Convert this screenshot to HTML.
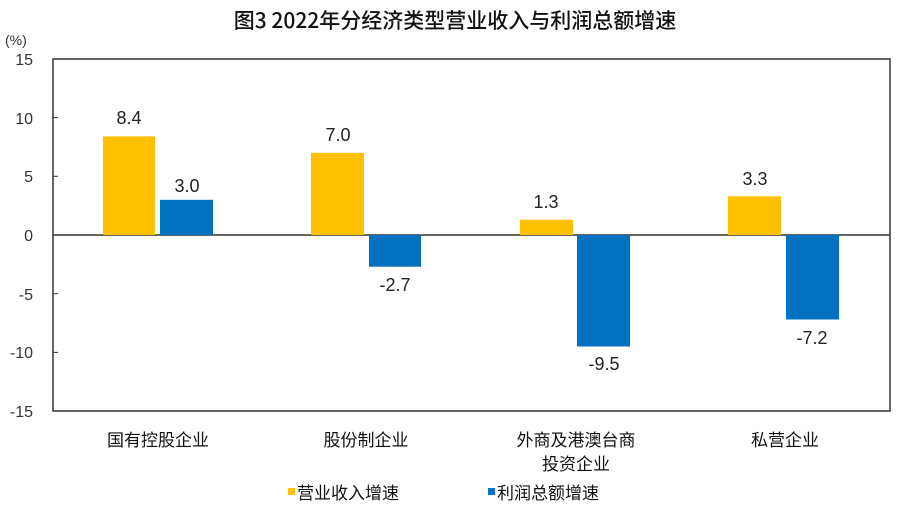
<!DOCTYPE html>
<html><head><meta charset="utf-8"><style>
body{margin:0;background:#fff;}
svg text{font-family:"Liberation Sans","Noto Sans CJK SC",sans-serif;}
</style></head><body>
<svg width="900" height="504" viewBox="0 0 900 504" xmlns="http://www.w3.org/2000/svg">
<rect width="900" height="504" fill="#fff"/>
<text x="455" y="28" font-size="21" text-anchor="middle" fill="#111" font-weight="500" style="font-family:'Noto Sans CJK SC',sans-serif">图3  2022年分经济类型营业收入与利润总额增速</text>
<text x="5" y="45" font-size="14" fill="#333">(%)</text>
<rect x="53" y="59" width="837" height="352" fill="none" stroke="#333" stroke-width="1.5"/>
<line x1="53" y1="235" x2="890" y2="235" stroke="#333" stroke-width="1.5"/>
<g stroke="#333" stroke-width="1">
<line x1="53" y1="117.6" x2="58" y2="117.6"/><line x1="53" y1="176.3" x2="58" y2="176.3"/>
<line x1="53" y1="293.7" x2="58" y2="293.7"/><line x1="53" y1="352.4" x2="58" y2="352.4"/>
</g>
<g font-size="16" fill="#333" text-anchor="end">
<text x="33" y="65">15</text><text x="33" y="124">10</text><text x="33" y="182">5</text>
<text x="33" y="241">0</text><text x="33" y="300">-5</text><text x="33" y="358">-10</text><text x="33" y="417">-15</text>
</g>
<g fill="#FFC000">
<rect x="103" y="136.4" width="52" height="98.6"/>
<rect x="311" y="152.8" width="53" height="82.2"/>
<rect x="520" y="219.7" width="53" height="15.3"/>
<rect x="728" y="196.3" width="53" height="38.7"/>
</g>
<g fill="#0070C0">
<rect x="160" y="199.8" width="53" height="35.2"/>
<rect x="369" y="235" width="52" height="31.7"/>
<rect x="577" y="235" width="53" height="111.5"/>
<rect x="786" y="235" width="53" height="84.5"/>
</g>
<g font-size="18" fill="#222" text-anchor="middle">
<text x="129" y="124">8.4</text><text x="187" y="192">3.0</text>
<text x="338" y="141">7.0</text><text x="395" y="291">-2.7</text>
<text x="546" y="208">1.3</text><text x="604" y="370">-9.5</text>
<text x="755" y="185">3.3</text><text x="812" y="344">-7.2</text>
</g>
<g font-size="17" fill="#111" text-anchor="middle" style="font-family:'Noto Sans CJK SC',sans-serif">
<text x="158" y="446">国有控股企业</text>
<text x="366" y="446">股份制企业</text>
<text x="576" y="446">外商及港澳台商</text>
<text x="576" y="470">投资企业</text>
<text x="785" y="446">私营企业</text>
</g>
<rect x="288" y="488" width="7" height="7" fill="#FFC000"/>
<text x="297" y="499" font-size="17" fill="#111" style="font-family:'Noto Sans CJK SC',sans-serif">营业收入增速</text>
<rect x="488" y="488" width="7" height="7" fill="#0070C0"/>
<text x="497" y="499" font-size="17" fill="#111" style="font-family:'Noto Sans CJK SC',sans-serif">利润总额增速</text>
</svg>
</body></html>
